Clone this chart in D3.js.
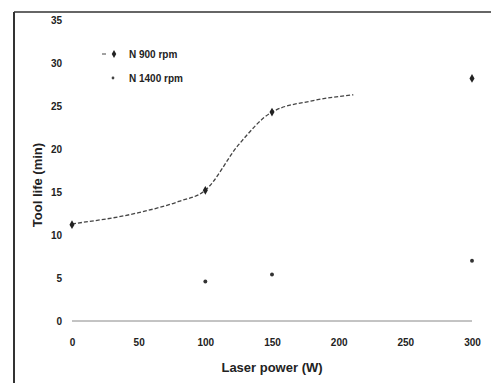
<!DOCTYPE html>
<html><head><meta charset="utf-8">
<script src="https://cdn.jsdelivr.net/npm/d3@7"></script>
<style>body{margin:0;background:#fff}svg{display:block}text{font-family:"Liberation Sans Narrow","Arial Narrow","Liberation Sans",sans-serif;font-weight:bold;fill:#222}</style>
</head><body><svg id="c" width="491" height="383"></svg>
<script>
const xTicks = [0, 50, 100, 150, 200, 250, 300];
const yTicks = [0, 5, 10, 15, 20, 25, 30, 35];
const power900 = [0, 100, 150, 300];
const life900 = [11.2, 15.2, 24.3, 28.2];
const trendPower900 = [0, 50, 80, 100, 125, 150, 180, 211];
const trendLife900 = [11.3, 12.6, 13.9, 15.2, 20.5, 24.3, 25.6, 26.3];
const power1400 = [100, 150, 300];
const life1400 = [4.6, 5.4, 7.0];
const seriesNames = ["N 900 rpm", "N 1400 rpm"];

const svg = d3.select("#c");
const x = d3.scaleLinear().domain([0, 300]).range([72, 472]);
const y = d3.scaleLinear().domain([0, 35]).range([321, 20]);

// scan frame
svg.append("line").attr("x1",14).attr("x2",14).attr("y1",12).attr("y2",383).attr("stroke","#333").attr("stroke-width",2);
svg.append("line").attr("x1",14).attr("x2",491).attr("y1",12).attr("y2",12).attr("stroke","#333").attr("stroke-width",1.5);

// baseline
svg.append("line").attr("x1",x(0)).attr("x2",x(300)).attr("y1",y(0)).attr("y2",y(0)).attr("stroke","#888").attr("stroke-width",1);

// y axis labels
const ya = d3.axisLeft(y).tickValues(yTicks).tickSize(0).tickPadding(10);
const gy = svg.append("g").attr("transform",`translate(${x(0)},0)`).call(ya);
gy.select(".domain").remove();
gy.selectAll("text").style("font-size","10px").style("font-family",null);

const xa = d3.axisBottom(x).tickValues(xTicks).tickSize(0).tickPadding(18);
const gx = svg.append("g").attr("transform",`translate(0,${y(0)})`).call(xa);
gx.select(".domain").remove();
gx.selectAll("text").style("font-size","10px").style("font-family",null);

// axis titles
svg.append("text").attr("x",272).attr("y",372).attr("text-anchor","middle").style("font-size","13px").text("Laser power (W)");
svg.append("text").attr("transform","translate(42,185) rotate(-90)").attr("text-anchor","middle").style("font-size","13px").text("Tool life (min)");

// trend curve 900
const trend = trendPower900.map((p,i)=>[p, trendLife900[i]]);
svg.append("path").datum(trend)
  .attr("d", d3.line().x(d=>x(d[0])).y(d=>y(d[1])).curve(d3.curveMonotoneX))
  .attr("fill","none").attr("stroke","#444").attr("stroke-width",1.3).attr("stroke-dasharray","4,2");

// markers 900
svg.selectAll(".m9").data(power900.map((p,i)=>[p,life900[i]])).join("path")
  .attr("d", d3.symbol(d3.symbolDiamond, 22))
  .attr("transform", d=>`translate(${x(d[0])},${y(d[1])})`).attr("fill","#222");
// markers 1400
svg.selectAll(".m14").data(power1400.map((p,i)=>[p,life1400[i]])).join("path")
  .attr("d", d3.symbol(d3.symbolCircle, 12))
  .attr("transform", d=>`translate(${x(d[0])},${y(d[1])})`).attr("fill","#333");

// legend
const lg = svg.append("g");
lg.append("line").attr("x1",102).attr("x2",106).attr("y1",54).attr("y2",54).attr("stroke","#444");
lg.append("path").attr("d",d3.symbol(d3.symbolDiamond,18)).attr("transform","translate(114,54)").attr("fill","#222");
lg.append("path").attr("d",d3.symbol(d3.symbolCircle,6)).attr("transform","translate(113,78)").attr("fill","#444");
lg.append("text").attr("x",129).attr("y",58).style("font-size","10px").text(seriesNames[0]);
lg.append("text").attr("x",129).attr("y",82).style("font-size","10px").text(seriesNames[1]);
</script></body></html>
